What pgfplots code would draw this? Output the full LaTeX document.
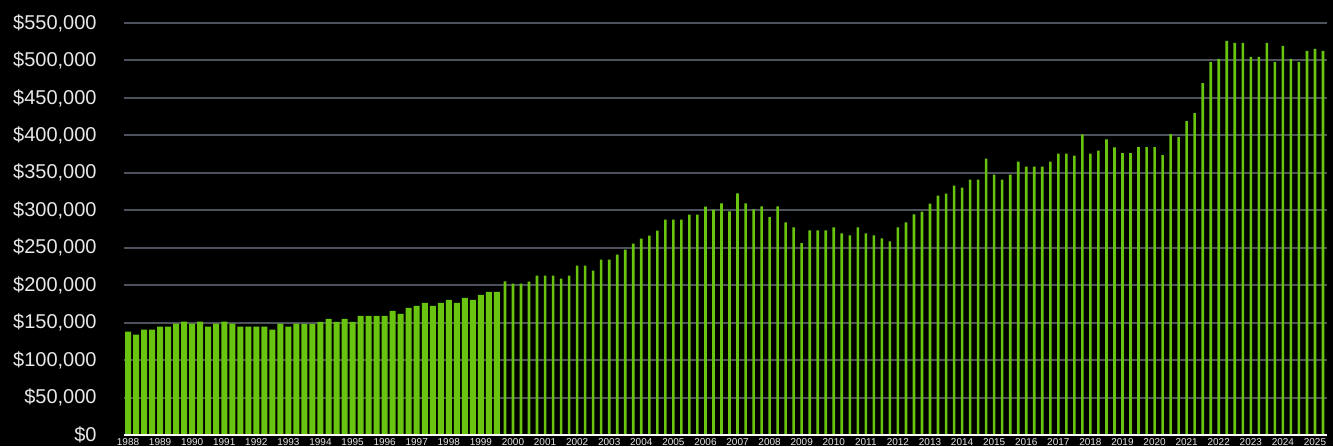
\documentclass[border=0pt]{standalone}
\usepackage{pgfplots}
\pgfplotsset{compat=1.18}
\usepackage{fontspec}
\setmainfont{Liberation Sans}
\definecolor{bargreen}{RGB}{104,196,14}
\definecolor{gridgray}{RGB}{78,82,92}
\definecolor{labelgray}{RGB}{232,232,232}
\begin{document}
\begin{tikzpicture}
\fill[black] (0,0) rectangle (666.5pt,223pt);
\useasboundingbox (0,0) rectangle (666.5pt,223pt);
\begin{axis}[
at={(62pt,5.5pt)}, anchor=south west,
scale only axis, width=601.5pt, height=206pt,
xmin=-0.5, xmax=149.5,
ymin=0, ymax=550000,
ytick={0,50000,...,550000},
scaled y ticks=false,
/pgf/number format/assume math mode=true,
yticklabel={\$\pgfmathprintnumber[fixed,precision=0,1000 sep={,}]{\tick}},
xtick={0,4,...,148},
xticklabels={1988,1989,1990,1991,1992,1993,1994,1995,1996,1997,1998,1999,2000,2001,2002,2003,2004,2005,2006,2007,2008,2009,2010,2011,2012,2013,2014,2015,2016,2017,2018,2019,2020,2021,2022,2023,2024,2025},
major tick length=0pt,
axis line style={draw=none},
ymajorgrids=true,
grid style={gridgray, line width=1pt},
yticklabel style={font=\fontsize{10}{12}\selectfont, text=labelgray, anchor=east, inner sep=0pt, xshift=-13.5pt},
xticklabel style={font=\fontsize{5}{5.5}\selectfont, text=labelgray, anchor=north, inner sep=0pt, yshift=-1.4pt},
]
% wide bars, 1988 to 1999
\addplot[ybar, bar shift=0pt, bar width=3pt, fill=bargreen, draw=none] coordinates {
(0,138000)(1,134000)(2,140700)(3,140700)(4,144700)(5,144700)(6,148700)(7,151300)
(8,148700)(9,151300)(10,144700)(11,148700)(12,151300)(13,148700)(14,144700)(15,144700)
(16,144700)(17,144700)(18,140700)(19,148700)(20,144700)(21,148700)(22,148500)(23,148500)
(24,151000)(25,155000)(26,151000)(27,155000)(28,151000)(29,159000)(30,159000)(31,159000)
(32,159000)(33,165700)(34,161700)(35,169700)(36,172400)(37,176400)(38,172400)(39,176400)
(40,180400)(41,176400)(42,183100)(43,180400)(44,187100)(45,191100)(46,191100)
};
% thin bars, from late 1999
\addplot[ybar, bar shift=0pt, bar width=1.3pt, fill=bargreen, draw=none] coordinates {
(47,205000)(48,202000)(49,202100)(50,204800)(51,212800)(52,212800)(53,212800)(54,208800)
(55,212800)(56,226100)(57,226100)(58,219500)(59,234100)(60,234100)(61,240800)(62,247500)
(63,255500)(64,262100)(65,266200)(66,272900)(67,287500)(68,287500)(69,287500)(70,294200)
(71,294200)(72,305000)(73,301000)(74,309300)(75,298700)(76,322700)(77,309300)(78,301300)
(79,305300)(80,290700)(81,305300)(82,284000)(83,277300)(84,256000)(85,273300)(86,273300)
(87,273300)(88,277300)(89,269300)(90,266600)(91,277300)(92,269300)(93,266600)(94,262600)
(95,258600)(96,277300)(97,284000)(98,294500)(99,298200)(100,308900)(101,319600)(102,322300)
(103,333000)(104,330300)(105,341000)(106,341000)(107,369000)(108,347700)(109,341000)(110,347700)
(111,365000)(112,358300)(113,358300)(114,358300)(115,365000)(116,375700)(117,375700)(118,373000)
(119,401300)(120,375700)(121,379700)(122,394700)(123,384000)(124,376400)(125,376400)(126,384400)
(127,384400)(128,384400)(129,373700)(130,401800)(131,397800)(132,419100)(133,429800)(134,469900)
(135,498200)(136,502200)(137,526200)(138,523500)(139,523500)(140,504900)(141,504900)(142,523500)
(143,498200)(144,519600)(145,502200)(146,498200)(147,512900)(148,515500)(149,512900)
};
\draw[white, line width=1pt] (axis cs:-0.5,0) -- (axis cs:149.5,0);
\end{axis}
\end{tikzpicture}
\end{document}
